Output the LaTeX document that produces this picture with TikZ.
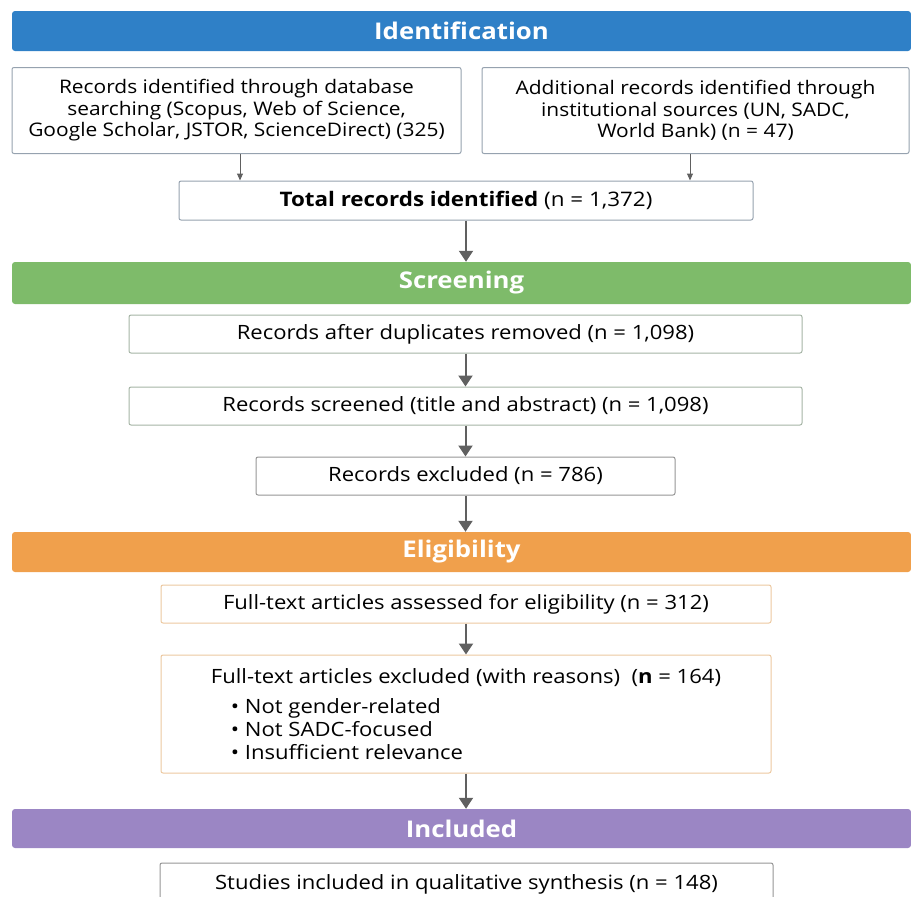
\documentclass[tikz,border=0pt]{standalone}
\usepackage{fontspec}
\setmainfont[FakeStretch=1.12]{Open Sans}
\usetikzlibrary{
  arrows.meta,
  calc,
  positioning,
}
\tikzstyle{arrow} = [
  -{Triangle[width=14pt,length=11pt]},
  line width=2pt,
  arrowgrey,
]
\tikzstyle{thin arrow} = [
  -{Triangle[width=6pt,length=7pt]},
  line width=1pt,
  arrowgrey,
]
\definecolor{stageblue}{RGB}{47, 128, 199}
\definecolor{stagegreen}{RGB}{126, 187, 106}
\definecolor{stageorange}{RGB}{240, 160, 76}
\definecolor{stagepurple}{RGB}{155, 134, 196}
\definecolor{arrowgrey}{RGB}{96, 96, 96}
\definecolor{edgeblue}{RGB}{150, 162, 175}
\definecolor{edgegreen}{RGB}{165, 180, 165}
\definecolor{edgeorange}{RGB}{236, 200, 160}
\definecolor{edgegrey}{RGB}{150, 150, 150}

\begin{document}
\begin{tikzpicture}[x=1pt, y=-1pt,
    bar/.style={rounded corners=3pt, minimum width=899pt, inner sep=0pt,
                text=white, font=\fontsize{23}{26}\selectfont\bfseries},
    box/.style={draw, rounded corners=2pt, fill=white, line width=1pt,
                align=center, inner sep=0pt,
                font=\fontsize{19.7}{21.5}\selectfont},
    srcbox/.style={box, draw=edgeblue, minimum height=86pt,
                font=\fontsize{18.7}{21.5}\selectfont}]
      \useasboundingbox (0,0) rectangle (911,897);
      \clip (0,0) rectangle (911,897);

      % Identification
      \node [bar, fill=stageblue, minimum height=40pt] (ident) at (461.5,31)
            {Identification};
      \node [srcbox, minimum width=449pt] (srcdb) at (236.5,110.5)
            {Records identified through database\\
             searching (Scopus, Web of Science,\\
             Google Scholar, JSTOR, ScienceDirect) (325)};
      \node [srcbox, minimum width=427pt] (srcinst) at (695.5,110.5)
            {Additional records identified through\\
             institutional sources (UN, SADC,\\
             World Bank) (n = 47)};
      \node [box, draw=edgeblue, minimum width=574pt, minimum height=39pt,
             font=\fontsize{20}{22}\selectfont] (total) at (466,200.5)
            {\textbf{Total records identified} (n = 1,372)};

      % Screening
      \node [bar, fill=stagegreen, minimum height=42pt] (screen) at (461.5,283)
            {Screening};
      \node [box, draw=edgegreen, minimum width=673pt, minimum height=38pt] (dedup) at (465.5,334)
            {Records after duplicates removed (n = 1,098)};
      \node [box, draw=edgegreen, minimum width=673pt, minimum height=38pt] (screened) at (465.5,406)
            {Records screened (title and abstract) (n = 1,098)};
      \node [box, draw=edgegrey, minimum width=419pt, minimum height=38pt] (recexcl) at (465.5,476)
            {Records excluded (n = 786)};

      % Eligibility
      \node [bar, fill=stageorange, minimum height=40pt] (elig) at (461.5,552)
            {Eligibility};
      \node [box, draw=edgeorange, minimum width=610pt, minimum height=38pt] (assessed) at (466,604)
            {Full-text articles assessed for eligibility (n = 312)};
      \node [box, draw=edgeorange, minimum width=610pt, minimum height=118pt, align=left,
             font=\fontsize{19.7}{23}\selectfont] (ftexcl) at (466,714)
            {Full-text articles excluded (with reasons) \ (\textbf{n} = 164)\\[7pt]
             \hspace{20pt}\textbullet\ Not gender-related\\
             \hspace{20pt}\textbullet\ Not SADC-focused\\
             \hspace{20pt}\textbullet\ Insufficient relevance};

      % Included
      \node [bar, fill=stagepurple, minimum height=39pt] (incl) at (461.5,828.5)
            {Included};
      \node [box, draw=edgegrey, minimum width=613pt, minimum height=42pt] (studies) at (466.5,884)
            {Studies included in qualitative synthesis (n = 148)};

      \draw [thin arrow] ($(srcdb.south)+(3.5,0)$) -- ($(srcdb.south |- total.north)+(3.5,0)$);
      \draw [thin arrow] ($(srcinst.south)+(-5.5,0)$) -- ($(srcinst.south |- total.north)+(-5.5,0)$);
      \draw [arrow] (total.south) -- (total.south |- screen.north);
      \draw [arrow] (dedup) -- (screened);
      \draw [arrow] (screened) -- (recexcl);
      \draw [arrow] (recexcl.south) -- (recexcl.south |- elig.north);
      \draw [arrow] (assessed) -- (ftexcl);
      \draw [arrow] (ftexcl.south) -- (ftexcl.south |- incl.north);
    \end{tikzpicture}
\end{document}
